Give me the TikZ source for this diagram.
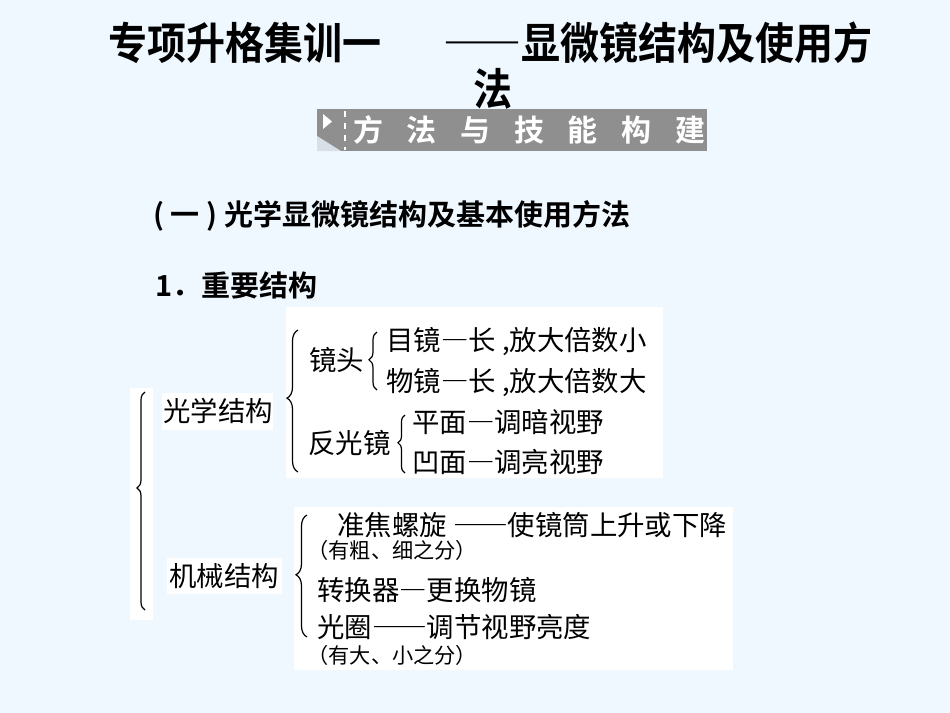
\documentclass[tikz,border=0pt]{standalone}
\usepackage{fontspec}
\newfontfamily\cjk{Noto Sans CJK SC}[BoldFont={Noto Sans CJK SC Bold}]
\usetikzlibrary{decorations.pathreplacing}
\definecolor{pagebg}{HTML}{F0F8FF}
\definecolor{bandgray}{HTML}{8F8F8F}
\definecolor{foldgray}{HTML}{D9DFE6}
% full-width dash
\newcommand\cdash{―}
\tikzset{
  txt/.style={anchor=west,inner sep=0pt,font=\cjk\fontsize{13.7}{14}\selectfont},
  note/.style={anchor=west,inner sep=0pt,font=\cjk\fontsize{10.6}{11}\selectfont},
  head/.style={anchor=west,inner sep=0pt,font=\cjk\bfseries\fontsize{14.5}{15}\selectfont},
  ttl/.style={anchor=west,inner sep=0pt,font=\cjk\bfseries\fontsize{19.5}{20}\selectfont},
  bandchar/.style={inner sep=0pt,text=white,font=\cjk\bfseries\fontsize{15}{15}\selectfont},
  panel/.style={fill=white,draw=none},
  brc/.style={decorate,line width=0.6pt},
}
\begin{document}
\begin{tikzpicture}[x=0.5pt,y=-0.5pt]

%%%Background
\fill[pagebg] (0,0) rectangle (950,713);
\useasboundingbox (0,0) rectangle (950,713);

%%%Title
\node[ttl] (title1) at (108,43) {\scalebox{1}[1.12]{专项升格集训一}};
\node[ttl] (title2) at (443,43) {\scalebox{1}[1.12]{\cdash\cdash 显微镜结构及使用方}};
\node[ttl] (title3) at (473,89) {\scalebox{1}[1.12]{法}};

%%%Band
\fill[bandgray] (317,109) rectangle (707,151);
\fill[foldgray] (317,136) -- (341,151) -- (317,151) -- cycle;
\fill[white] (323,114) -- (332,121.5) -- (323,129) -- cycle;
\draw[white,dashed,line width=0.6pt] (345,111) -- (345,150);
%Band letters
\foreach \c [count=\i from 0] in {方,法,与,技,能,构,建}
  \node[bandchar] (band\i) at (368+53.7*\i,130) {\c};

%%%Headings
\node[head] (hsec) at (153,216) {( 一 ) 光学显微镜结构及基本使用方法};
\node[head] (hnum) at (155,285) {1．重要结构};

%%%White panels
\fill[panel] (130,388) rectangle (153,620);
\fill[panel] (162,393) rectangle (273,430);
\fill[panel] (167,558) rectangle (282,594);
\fill[panel] (286,307) rectangle (663,478);
\fill[panel] (294,507) rectangle (733,670);

%%%Outer brace
\draw[brc,decoration={brace,amplitude=4pt,aspect=0.56}] (145,610) -- (145,392);

%%%Optical part
\node[txt] (optic) at (163,411) {光学结构};
\draw[brc,decoration={brace,amplitude=5.5pt,aspect=0.52}] (298,472) -- (298,330);
%Lenses
\node[txt] (lens) at (309,360) {镜头};
\draw[brc,decoration={brace,amplitude=4pt,aspect=0.52}] (377,390) -- (377,332);
\node[txt] (eyep) at (386,341) {目镜\cdash 长 ,放大倍数小};
\node[txt] (objp) at (386,382) {物镜\cdash 长 ,放大倍数大};
%Mirror
\node[txt] (mirror) at (308,443) {反光镜};
\draw[brc,decoration={brace,amplitude=3.5pt,aspect=0.52}] (405,473) -- (405,415);
\node[txt] (flat) at (412,422) {平面\cdash 调暗视野};
\node[txt] (concave) at (412,462) {凹面\cdash 调亮视野};

%%%Mechanical part
\node[txt] (mech) at (169,576) {机械结构};
\draw[brc,decoration={brace,amplitude=5.5pt,aspect=0.51}] (307,637) -- (307,515);
\node[txt] (focus) at (337,525) {准焦螺旋 \cdash\cdash 使镜筒上升或下降};
\node[note] (focusnote) at (307,550) {（有粗、细之分）};
\node[txt] (nosepiece) at (317,590) {转换器\cdash 更换物镜};
\node[txt] (diaph) at (317,627) {光圈\cdash\cdash 调节视野亮度};
\node[note] (diaphnote) at (307,655) {（有大、小之分）};

\end{tikzpicture}
\end{document}
